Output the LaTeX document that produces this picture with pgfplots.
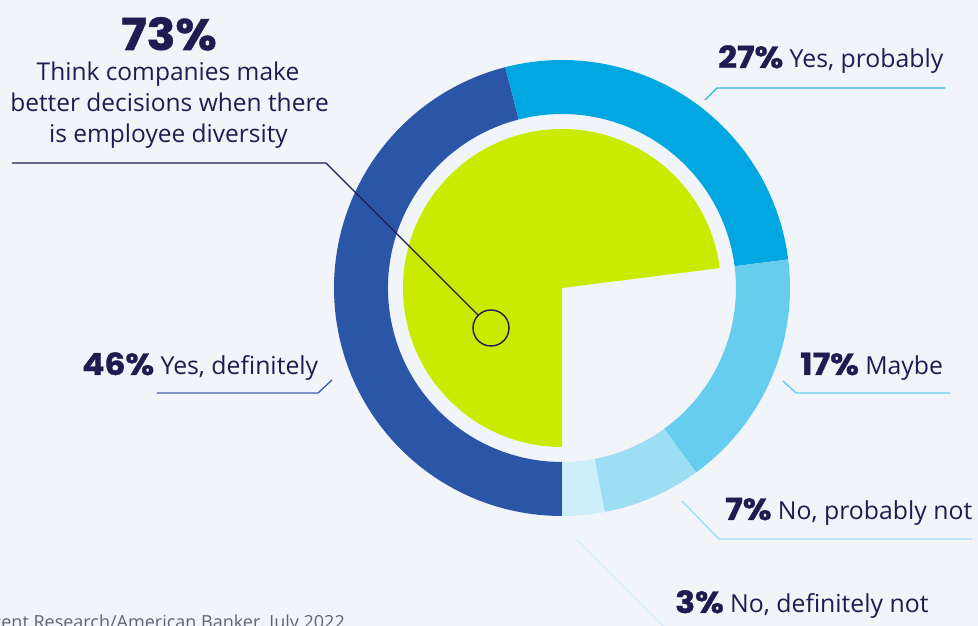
\documentclass[border=0pt]{standalone}
\usepackage{pgfplots}
\pgfplotsset{compat=1.18}
\usepackage{fontspec}
\usetikzlibrary{calc}
\setmainfont{Open Sans}
\newfontfamily\numfont{Poppins}[BoldFeatures={FakeStretch=1.08,FakeBold=1.2}]
\definecolor{bg}{HTML}{F1F5F9}
\definecolor{navy}{HTML}{221B51}
\definecolor{cA}{HTML}{2B55A6}
\definecolor{cB}{HTML}{00A7E1}
\definecolor{cC}{HTML}{67CDEE}
\definecolor{cD}{HTML}{9DDEF5}
\definecolor{cE}{HTML}{CCEEFA}
\definecolor{green}{HTML}{C8EB00}
\definecolor{srcgray}{HTML}{5D6677}
% data (percent)
\def\vA{46}% Yes, definitely
\def\vB{27}% Yes, probably
\def\vC{17}% Maybe
\def\vD{7}%  No, probably not
\def\vE{3}%  No, definitely not
\def\vIn{73}% inner pie
% angles (clockwise from 6 o'clock)
\pgfmathsetmacro{\aO}{270}
\pgfmathsetmacro{\aA}{\aO-3.6*\vA}
\pgfmathsetmacro{\aB}{\aA-3.6*\vB}
\pgfmathsetmacro{\aC}{\aB-3.6*\vC}
\pgfmathsetmacro{\aD}{\aC-3.6*\vD}
\pgfmathsetmacro{\aE}{\aD-3.6*\vE}
\pgfmathsetmacro{\aIn}{\aO-3.6*\vIn}
\def\cx{562}\def\cy{338}
\def\Ro{228pt}\def\Ri{174pt}\def\Rp{159pt}
\newcommand{\ringseg}[3]{%
  \fill[#3] ($(axis cs:\cx,\cy)+(#1:\Ro)$) arc[start angle=#1, end angle=#2, radius=\Ro]
    -- ($(axis cs:\cx,\cy)+(#2:\Ri)$) arc[start angle=#2, end angle=#1, radius=\Ri] -- cycle;}
\newcommand{\pct}[1]{{\numfont\bfseries\fontsize{30.5}{30}\selectfont #1}}
\begin{document}
\begin{tikzpicture}
\useasboundingbox (0,0) rectangle (978pt,626pt);
\clip (0,0) rectangle (978pt,626pt);
\begin{axis}[scale only axis, width=978pt, height=626pt,
  xmin=0, xmax=978, ymin=0, ymax=626, hide axis, clip=false]
\fill[bg] (axis cs:0,0) rectangle (axis cs:978,626);
% outer ring
\ringseg{\aO}{\aA}{cA}
\ringseg{\aA}{\aB}{cB}
\ringseg{\aB}{\aC}{cC}
\ringseg{\aC}{\aD}{cD}
\ringseg{\aD}{\aE}{cE}
% inner pie
\fill[green] (axis cs:\cx,\cy) -- ($(axis cs:\cx,\cy)+(\aO:\Rp)$) arc[start angle=\aO, end angle=\aIn, radius=\Rp] -- cycle;
% leader lines
\draw[navy, line width=1.4pt] (axis cs:491,298) circle[radius=18pt];
\draw[navy, line width=1.4pt] (axis cs:478.3,310.7) -- (axis cs:326,463) -- (axis cs:12,463);
\draw[cB!85!white, line width=1.4pt] (axis cs:705,526) -- (axis cs:717,538) -- (axis cs:945,538);
\draw[cA!90!white, line width=1.4pt] (axis cs:332,246) -- (axis cs:318,233) -- (axis cs:157,233);
\draw[cC, line width=1.4pt] (axis cs:783,245) -- (axis cs:796,233) -- (axis cs:950,233);
\draw[cD, line width=1.4pt] (axis cs:682,125) -- (axis cs:719,87) -- (axis cs:972,87);
\draw[cE, line width=1.4pt] (axis cs:577,86) -- (axis cs:665,-2);
% texts
\node[anchor=base, inner sep=0pt, text=navy, font=\numfont\bfseries\fontsize{44}{50}\selectfont] at (axis cs:169,576) {73\%};
\node[anchor=base, inner sep=0pt, text=navy, font=\fontsize{24.5}{30}\selectfont] at (axis cs:168,545) {Think companies make};
\node[anchor=base, inner sep=0pt, text=navy, font=\fontsize{24.5}{30}\selectfont] at (axis cs:169.5,514) {better decisions when there};
\node[anchor=base, inner sep=0pt, text=navy, font=\fontsize{24.5}{30}\selectfont] at (axis cs:168.5,483) {is employee diversity};
\node[anchor=base west, inner sep=0pt, text=navy, font=\fontsize{24.8}{30}\selectfont] at (axis cs:718,558) {\pct{27\%} Yes, probably};
\node[anchor=base west, inner sep=0pt, text=navy, font=\fontsize{24.8}{30}\selectfont] at (axis cs:82,251) {\pct{46\%} Yes, definitely};
\node[anchor=base west, inner sep=0pt, text=navy, font=\fontsize{24.8}{30}\selectfont] at (axis cs:800,251) {\pct{17\%} Maybe};
\node[anchor=base west, inner sep=0pt, text=navy, font=\fontsize{24.8}{30}\selectfont] at (axis cs:725,106) {\pct{7\%} No, probably not};
\node[anchor=base west, inner sep=0pt, text=navy, font=\fontsize{24.8}{30}\selectfont] at (axis cs:675,13) {\pct{3\%} No, definitely not};
\node[anchor=base east, inner sep=0pt, text=srcgray, font=\fontsize{18}{20}\selectfont] at (axis cs:345,-3) {Source: Arizent Research/American Banker, July 2022};
\end{axis}
\end{tikzpicture}
\end{document}
